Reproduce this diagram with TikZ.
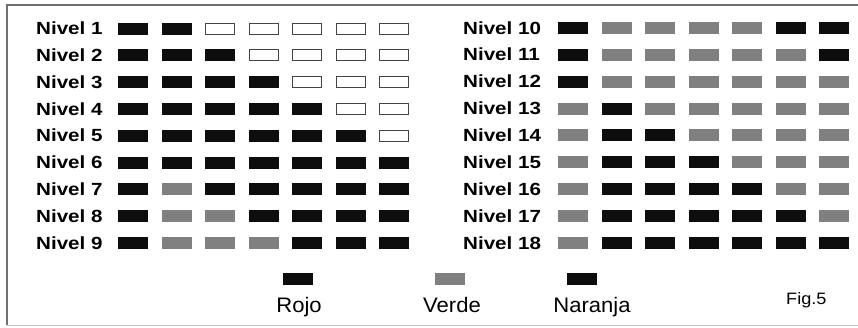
\documentclass[tikz,border=0pt]{standalone}
\usepackage{fontspec}
\setmainfont{Liberation Sans}
\definecolor{boxblack}{HTML}{0D0D0D}
\definecolor{boxgray}{HTML}{808080}
\definecolor{edgegray}{HTML}{444444}
\definecolor{framegray}{HTML}{707070}
\definecolor{framelight}{HTML}{C8C8C8}
\begin{document}
\begin{tikzpicture}[x=1pt,y=-1pt,
  boxbase/.style={minimum width=30pt, minimum height=12pt, inner sep=0pt, outer sep=0pt, anchor=center},
  boxB/.style={boxbase, fill=boxblack, draw=none},
  boxG/.style={boxbase, fill=boxgray, draw=none},
  boxW/.style={boxbase, fill=white, draw=edgegray, line width=0.9pt, minimum width=29pt, minimum height=11pt},
  lbl/.style={font=\fontsize{17.6}{20}\selectfont\bfseries, anchor=west, inner sep=0pt},
  legtxt/.style={font=\fontsize{21}{24}\selectfont, anchor=base, inner sep=0pt}]
\useasboundingbox (0,0) rectangle (858,327);
% frame
\draw[framegray, line width=1.8pt] (7,325) -- (7,5) -- (858,5);
\draw[framelight, line width=1pt] (7,325.5) -- (858,325.5);
% left column
\foreach \r/\pat in {1/{B,B,W,W,W,W,W},2/{B,B,B,W,W,W,W},3/{B,B,B,B,W,W,W},
  4/{B,B,B,B,B,W,W},5/{B,B,B,B,B,B,W},6/{B,B,B,B,B,B,B},7/{B,G,B,B,B,B,B},
  8/{B,G,G,B,B,B,B},9/{B,G,G,G,B,B,B}}{
  \pgfmathsetmacro{\yy}{28.5+26.8*(\r-1)}
  \node[lbl] (l\r) at (36,\yy) {\scalebox{1.17}[1]{Nivel \r}};
  \foreach \c [count=\j from 0] in \pat {
    \node[box\c] (b\r-\j) at ({133+43.5*\j},\yy) {};
  }
}
% right column
\foreach \r/\pat in {10/{B,G,G,G,G,B,B},11/{B,G,G,G,G,G,B},12/{B,G,G,G,G,G,G},
  13/{G,B,G,G,G,G,G},14/{G,B,B,G,G,G,G},15/{G,B,B,B,G,G,G},16/{G,B,B,B,B,G,G},
  17/{G,B,B,B,B,B,G},18/{G,B,B,B,B,B,B}}{
  \pgfmathsetmacro{\yy}{27.8+26.9*(\r-10)}
  \node[lbl] (l\r) at (463,\yy) {\scalebox{1.17}[1]{Nivel \r}};
  \foreach \c [count=\j from 0] in \pat {
    \node[box\c] (b\r-\j) at ({573+43.5*\j},\yy) {};
  }
}
% legend
\node[boxB] (legR) at (298,279) {};
\node[boxG] (legV) at (450,279) {};
\node[boxB] (legN) at (582,279) {};
\node[legtxt] (txtR) at (299,312) {\scalebox{1.05}[1]{Rojo}};
\node[legtxt] (txtV) at (452,312) {\scalebox{1.05}[1]{Verde}};
\node[legtxt] (txtN) at (592,312) {\scalebox{1.05}[1]{Naranja}};
\node[font=\fontsize{16.5}{19}\selectfont, anchor=base west, inner sep=0pt] (fig) at (786,304) {\scalebox{1.1}[1]{Fig.5}};
\end{tikzpicture}
\end{document}
